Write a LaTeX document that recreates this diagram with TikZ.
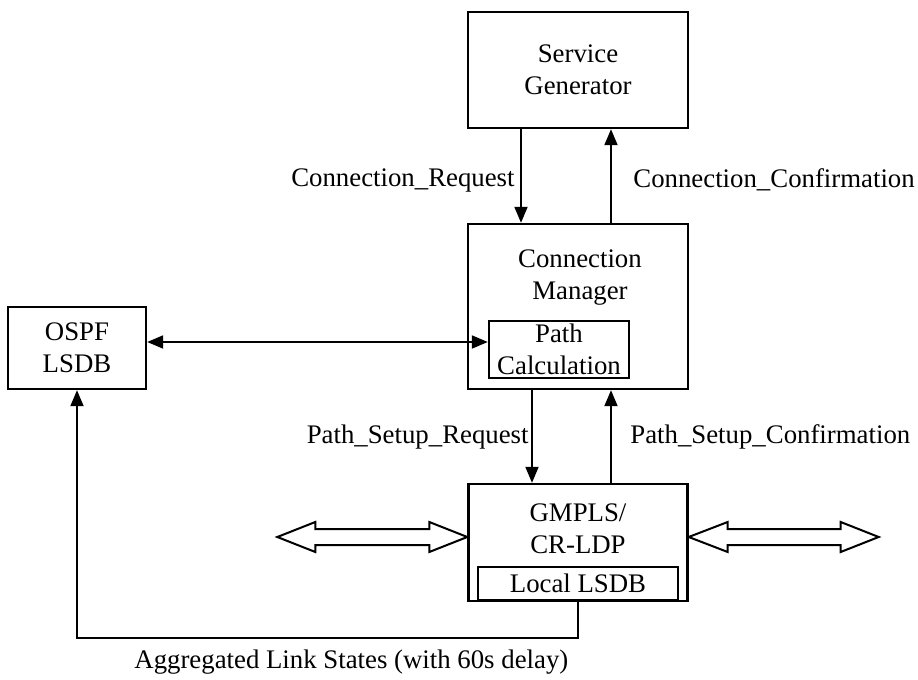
\documentclass[tikz,border=0pt]{standalone}
\usepackage{fontspec}
\setmainfont{Liberation Serif}
\usetikzlibrary{arrows.meta, positioning}
\tikzset{
  block/.style={draw, line width=1.2pt, inner sep=0pt, align=center},
  msg/.style={draw, line width=1pt, -{Triangle[length=8pt,width=6.5pt]}},
  twoway/.style={msg, {Triangle[length=8pt,width=6.5pt]}-{Triangle[length=8pt,width=6.5pt]}},
  hollow/.style={draw, line width=1pt, line join=miter},
  lbl/.style={inner sep=0pt, align=center},
}
\begin{document}
\begin{tikzpicture}[x=0.5pt, y=-0.5pt, font=\fontsize{13.4}{16}\selectfont]
  \useasboundingbox (0,0) rectangle (918,680);
  % boxes
  \node[block, minimum width=110pt, minimum height=58pt] (sg) at (578,70) {Service\\Generator};
  \node[block, minimum width=110pt, minimum height=82.5pt] (cm) at (578,306.5) {};
  \node[lbl] (cmtext) at (580,278) {Connection\\Manager};
  \node[block, minimum width=70pt, minimum height=28.5pt] (pc) at (559,349.5) {Path\\Calculation};
  \node[block, minimum width=69pt, minimum height=41pt] (ospf) at (77,348) {OSPF\\LSDB};
  \node[block, minimum width=109.5pt, minimum height=58.5pt] (gmpls) at (578,542.5) {};
  \node[lbl] (gmtext) at (578,529) {GMPLS/\\CR-LDP};
  \node[block, minimum width=100pt, minimum height=16.5pt] (lsdb) at (578,583.5) {Local LSDB};

  % messages
  \draw[msg] ([xshift=-28.5pt]sg.south) -- ([xshift=-28.5pt]cm.north);
  \draw[msg] ([xshift=16.5pt]cm.north) -- ([xshift=16.5pt]sg.south);
  \draw[msg] ([xshift=-23pt]cm.south) -- ([xshift=-23pt]gmpls.north);
  \draw[msg] ([xshift=16.5pt]gmpls.north) -- ([xshift=16.5pt]cm.south);
  \draw[twoway] ([yshift=3pt]ospf.east) -- ([yshift=3pt]ospf.east -| pc.west);
  \draw[msg] (lsdb.south) -- ++(0,37) -| (ospf.south);

  \node[lbl, anchor=east] (creq) at (515,180) {Connection\_Request};
  \node[lbl, anchor=west] (cconf) at (633,180) {Connection\_Confirmation};
  \node[lbl, anchor=east] (preq) at (529,437) {Path\_Setup\_Request};
  \node[lbl, anchor=west] (pconf) at (630,437) {Path\_Setup\_Confirmation};
  \node[lbl, anchor=west] (agg) at (134,662) {Aggregated Link States (with 60s delay)};

  % hollow double arrows
  \draw[hollow] ([yshift=2.75pt]gmpls.west) -- ++(-38,-15) -- ++(0,7) -- ++(-114,0) -- ++(0,-7)
    -- ++(-38,15) -- ++(38,15) -- ++(0,-7) -- ++(114,0) -- ++(0,7) -- cycle;
  \draw[hollow] ([yshift=2.75pt]gmpls.east) -- ++(39,-15) -- ++(0,7) -- ++(113,0) -- ++(0,-7)
    -- ++(38,15) -- ++(-38,15) -- ++(0,-7) -- ++(-113,0) -- ++(0,7) -- cycle;
\end{tikzpicture}
\end{document}
